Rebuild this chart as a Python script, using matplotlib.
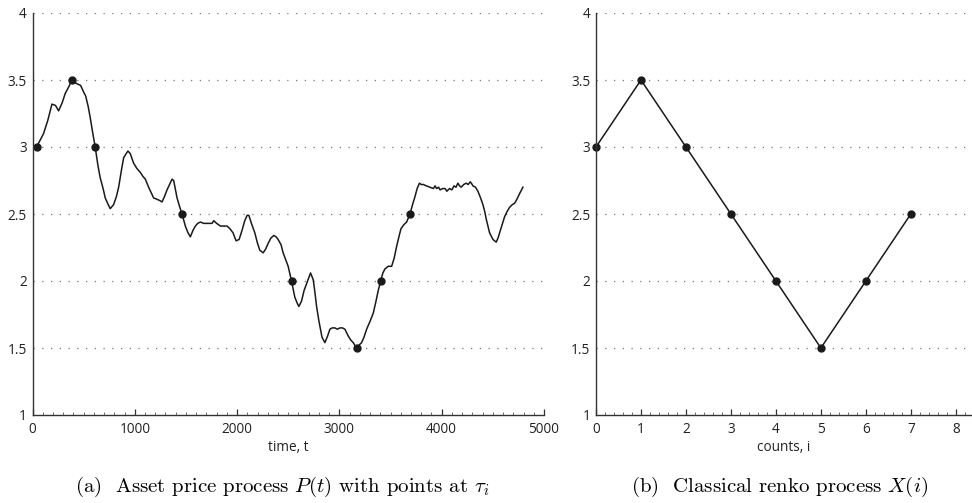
import numpy as np
import matplotlib
matplotlib.use("Agg")
import matplotlib.pyplot as plt
from matplotlib.ticker import MultipleLocator

# price path P(t)
t = [0, 40, 108, 150, 190, 225, 255, 290, 320, 355, 385, 415, 440, 470, 500, 520,
     545, 564, 590, 613, 640, 662, 690, 711, 740, 760, 793, 820, 842, 870, 891,
     915, 933, 956, 988, 1020, 1054, 1080, 1103, 1135, 1160, 1184, 1217, 1245,
     1266, 1290, 1315, 1345, 1364, 1380, 1413, 1440, 1462, 1494, 1520, 1543,
     1570, 1592, 1615, 1641, 1674, 1700, 1730, 1755, 1772, 1800, 1837, 1870,
     1902, 1930, 1960, 1990, 2020, 2049, 2075, 2098, 2115, 2140, 2173, 2200,
     2222, 2255, 2280, 2303, 2330, 2359, 2380, 2401, 2430, 2450, 2475, 2499,
     2532, 2564, 2590, 2604, 2630, 2655, 2679, 2718, 2744, 2760, 2777, 2800,
     2830, 2858, 2885, 2907, 2930, 2956, 2980, 3005, 3030, 3054, 3086, 3110,
     3135, 3168, 3190, 3217, 3240, 3266, 3300, 3331, 3355, 3380, 3403, 3425,
     3445, 3478, 3511, 3535, 3560, 3585, 3602, 3630, 3657, 3690, 3715, 3739,
     3760, 3782, 3800, 3821, 3850, 3886, 3919, 3935, 3951, 3970, 3984, 4010,
     4033, 4050, 4077, 4100, 4120, 4140, 4158, 4175, 4191, 4215, 4240, 4260,
     4279, 4290, 4305, 4330, 4354, 4380, 4403, 4420, 4436, 4468, 4501, 4533,
     4550, 4566, 4590, 4615, 4640, 4664, 4690, 4713, 4735, 4760, 4794]
p = [2.99, 3.0, 3.10, 3.20, 3.32, 3.31, 3.27, 3.33, 3.40, 3.45, 3.50, 3.48,
     3.47, 3.46, 3.41, 3.38, 3.30, 3.22, 3.10, 3.0, 2.86, 2.77, 2.69, 2.62,
     2.57, 2.54, 2.57, 2.63, 2.70, 2.83, 2.92, 2.95, 2.97, 2.95, 2.88, 2.84,
     2.81, 2.78, 2.76, 2.70, 2.66, 2.62, 2.61, 2.60, 2.59, 2.63, 2.68, 2.73,
     2.76, 2.75, 2.62, 2.55, 2.5, 2.41, 2.36, 2.33, 2.38, 2.41, 2.43, 2.44,
     2.43, 2.43, 2.43, 2.43, 2.45, 2.43, 2.41, 2.41, 2.41, 2.39, 2.36, 2.30,
     2.31, 2.38, 2.45, 2.49, 2.49, 2.43, 2.36, 2.28, 2.23, 2.21, 2.24, 2.28,
     2.32, 2.34, 2.33, 2.31, 2.27, 2.21, 2.16, 2.11, 2.0, 1.88, 1.83, 1.81,
     1.85, 1.93, 1.98, 2.06, 2.01, 1.92, 1.81, 1.70, 1.58, 1.54, 1.59, 1.64,
     1.65, 1.65, 1.64, 1.65, 1.65, 1.64, 1.59, 1.56, 1.54, 1.5, 1.52, 1.54,
     1.58, 1.64, 1.70, 1.76, 1.84, 1.93, 2.0, 2.06, 2.09, 2.11, 2.11, 2.17,
     2.26, 2.34, 2.39, 2.42, 2.44, 2.5, 2.57, 2.63, 2.69, 2.73, 2.72, 2.72,
     2.71, 2.70, 2.69, 2.71, 2.69, 2.70, 2.68, 2.69, 2.69, 2.67, 2.69, 2.68,
     2.71, 2.70, 2.73, 2.71, 2.70, 2.72, 2.73, 2.72, 2.74, 2.73, 2.71, 2.70,
     2.67, 2.62, 2.57, 2.52, 2.46, 2.36, 2.31, 2.29, 2.32, 2.36, 2.42, 2.48,
     2.52, 2.55, 2.57, 2.58, 2.61, 2.65, 2.70]

# renko crossing times tau_i and levels
tau = [40, 385, 613, 1462, 2532, 3168, 3403, 3690]
renko = [3.0, 3.5, 3.0, 2.5, 2.0, 1.5, 2.0, 2.5]
counts = [0, 1, 2, 3, 4, 5, 6, 7]

yticks = [1, 1.5, 2, 2.5, 3, 3.5, 4]
ylabels = ["1", "1.5", "2", "2.5", "3", "3.5", "4"]

plt.rcParams["font.family"] = ["Open Sans", "DejaVu Sans"]
plt.rcParams["mathtext.fontset"] = "cm"

fig = plt.figure(figsize=(9.72, 5.03), dpi=100)
ax1 = fig.add_axes([32.5 / 972, 88 / 503, 511.5 / 972, 402 / 503])
ax2 = fig.add_axes([596 / 972, 88 / 503, 376 / 972, 402 / 503])

lc = "#1a1a1a"
ax1.plot(t, p, color=lc, lw=1.1)
ax1.plot(tau, renko, "o", color=lc, ms=5, clip_on=False)
ax2.plot(counts, renko, "-o", color=lc, lw=1.1, ms=5, clip_on=False)

ax1.set_xlim(0, 5000)
ax1.set_xticks([0, 1000, 2000, 3000, 4000, 5000])
ax1.xaxis.set_minor_locator(MultipleLocator(100))
ax2.set_xlim(0, 8.36)
ax2.set_xticks(range(9))
ax2.xaxis.set_minor_locator(MultipleLocator(0.2))

fs = 9.8
for ax in (ax1, ax2):
    ax.set_ylim(1, 4)
    ax.set_yticks(yticks)
    ax.set_yticklabels(ylabels)
    for s in ("top", "right"):
        ax.spines[s].set_visible(False)
    for s in ("left", "bottom"):
        ax.spines[s].set_color("#333333")
        ax.spines[s].set_linewidth(1.0)
    ax.tick_params(axis="x", which="major", direction="in", length=4,
                   width=0.9, color="#333333", labelsize=fs, pad=5,
                   labelcolor="#222222")
    ax.tick_params(axis="x", which="minor", direction="in", length=2,
                   width=0.6, color="#555555")
    ax.tick_params(axis="y", length=0, labelsize=fs, pad=4,
                   labelcolor="#222222")
    for y in yticks[1:]:
        ax.axhline(y, color="#777777", lw=0.9, ls=(0, (1, 6)), zorder=0)

ax1.set_xlabel("time, t", fontsize=fs, labelpad=2, color="#222222")
ax2.set_xlabel("counts, i", fontsize=fs, labelpad=2, color="#222222")

cap = dict(fontsize=15, family="cmr10", ha="center", va="center")
fig.text(282 / 972, 1 - 487 / 503,
         r"(a)  Asset price process $P(t)$ with points at $\tau_i$", **cap)
fig.text(780 / 972, 1 - 487 / 503,
         r"(b)  Classical renko process $X(i)$", **cap)

fig.savefig("out.png", dpi=100)
